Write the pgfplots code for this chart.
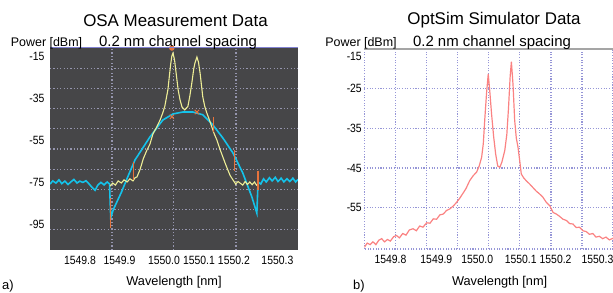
\documentclass[border=0pt]{standalone}
\usepackage{graphicx}
\usepackage{pgfplots}
\pgfplotsset{compat=1.18}
\usepackage{fontspec}
\setmainfont{Liberation Sans}
\definecolor{osabg}{RGB}{70,70,72}
\definecolor{osagrid}{RGB}{150,150,175}
\definecolor{osatop}{RGB}{130,130,210}
\definecolor{cyanA}{RGB}{20,195,235}
\definecolor{tealA}{RGB}{45,165,195}
\definecolor{yelA}{RGB}{238,238,150}
\definecolor{oraA}{RGB}{230,115,60}
\definecolor{pinkA}{RGB}{250,130,130}
\definecolor{simgrid}{RGB}{150,150,215}
\definecolor{simborder}{RGB}{165,165,165}
\newcommand{\tl}[1]{\scalebox{0.87}[1]{#1}}
\begin{document}
\begin{tikzpicture}
\path[use as bounding box] (0bp,0bp) rectangle (613bp,293bp);
\pgfplotsset{
  every tick label/.append style={font=\fontsize{12}{13}\selectfont},
}
% ---------------- left panel ----------------
\begin{axis}[
  at={(50bp,43bp)}, anchor=south west,
  scale only axis, width=248bp, height=202bp,
  xmin=1549.718, xmax=1550.351, ymin=-107.4, ymax=-11.2,
  axis background/.style={fill=osabg},
  axis line style={draw=none},
  xtick={1549.7945,1549.8953,1550.0088,1550.0981,1550.1874,1550.2984},
  xticklabels={\tl{1549.8},\tl{1549.9},\tl{1550.0},\tl{1550.1},\tl{1550.2},\tl{1550.3}},
  ytick={-15,-35,-55,-75,-95},
  yticklabels={\tl{-15},\tl{-35},\tl{-55},\tl{-75},\tl{-95}},
  major tick length=0pt,
  minor xtick={1549.876,1550.034,1550.193},
  minor ytick={-20.82,-30.44,-40.06,-49.68,-59.3,-68.92,-78.54,-88.16,-97.78},
  minor grid style={osagrid, line width=1.2pt, dash pattern=on 1.2pt off 2.2pt},
  xminorgrids, yminorgrids,
  minor tick length=0pt,
  xticklabel style={yshift=-3bp},
  yticklabel style={xshift=-2bp},
  clip=true,
]
% cyan noise + fit
\addplot[cyanA, line width=1.6pt] coordinates {
(1549.718,-76) (1549.725,-74.5) (1549.733,-75.5) (1549.741,-74) (1549.748,-75.8)
(1549.756,-74.6) (1549.764,-76.2) (1549.771,-75) (1549.779,-73.8) (1549.787,-75.5)
(1549.794,-74.6) (1549.802,-75.2) (1549.810,-74.4) (1549.818,-76) (1549.825,-77.5)
(1549.833,-79) (1549.840,-76.5) (1549.848,-75.2) (1549.856,-76.4) (1549.864,-75)
(1549.870,-76) (1549.873,-92) (1549.880,-88) (1549.900,-80) (1549.920,-71)
(1549.935,-64.5) (1549.973,-53.6) (1550.006,-45.5) (1550.032,-42.6) (1550.057,-41.7)
(1550.083,-41.7) (1550.108,-43) (1550.134,-47.9) (1550.159,-54) (1550.185,-61.2)
(1550.210,-70.7) (1550.233,-82) (1550.246,-89.8) (1550.249,-75)
(1550.256,-76) (1550.263,-73.5) (1550.270,-75) (1550.278,-73) (1550.285,-74.5)
(1550.293,-72.8) (1550.300,-74.8) (1550.308,-73.2) (1550.315,-75) (1550.323,-73.5)
(1550.330,-74.8) (1550.338,-73.2) (1550.345,-75) (1550.351,-73.8)
};
% yellow measured trace
\addplot[yelA, line width=1.1pt] coordinates {
(1549.871,-77) (1549.878,-75.5) (1549.885,-76.5) (1549.892,-74.5) (1549.900,-75.5)
(1549.907,-74) (1549.915,-75) (1549.922,-73.5) (1549.930,-74.5) (1549.935,-73)
(1549.940,-72.6) (1549.948,-69) (1549.956,-64) (1549.965,-60) (1549.973,-57)
(1549.981,-52) (1549.990,-49) (1549.999,-45.5) (1550.006,-42) (1550.011,-39)
(1550.016,-34) (1550.019,-31) (1550.023,-24) (1550.026,-19) (1550.029,-15)
(1550.032,-13.6) (1550.036,-17) (1550.039,-21.7) (1550.045,-31) (1550.050,-36)
(1550.055,-39.3) (1550.062,-40.7) (1550.070,-39) (1550.075,-34) (1550.080,-27.9)
(1550.085,-21) (1550.088,-18.3) (1550.093,-15.5) (1550.097,-18) (1550.101,-23)
(1550.108,-34.5) (1550.113,-39) (1550.118,-42) (1550.124,-45) (1550.131,-48.8)
(1550.137,-52) (1550.144,-55) (1550.151,-59) (1550.159,-63) (1550.165,-66)
(1550.172,-69.3) (1550.178,-72) (1550.185,-74) (1550.192,-76) (1550.198,-74.8)
(1550.203,-75.5) (1550.210,-76.5) (1550.216,-74.8) (1550.222,-76.2) (1550.228,-75)
(1550.234,-76.3) (1550.240,-75) (1550.245,-76.5) (1550.249,-76)
};
% orange markers
\addplot[oraA, line width=1.1pt] coordinates {(1549.873,-82.6) (1549.873,-97)};
\addplot[oraA, line width=1.1pt] coordinates {(1550.249,-70) (1550.249,-79)};
\addplot[oraA, line width=1.1pt] coordinates {(1549.930,-65.5) (1549.930,-74)};
\addplot[oraA, line width=1.1pt] coordinates {(1550.190,-60) (1550.190,-70)};
\addplot[oraA, line width=1.1pt] coordinates {(1550.136,-44) (1550.136,-51)};
\addplot[oraA, line width=1pt, mark=x, mark size=3pt, only marks] coordinates {(1550.029,-44) (1550.093,-41.7)};
\addplot[oraA, only marks, mark=*, mark size=2.5pt] coordinates {(1550.029,-11.2)};
\end{axis}
\draw[osatop, line width=1pt] (50bp,245bp) -- (298bp,245bp);
% ---------------- right panel ----------------
\begin{axis}[
  at={(364.3bp,44bp)}, anchor=south west,
  scale only axis, width=248.7bp, height=200bp,
  xmin=1549.737, xmax=1550.339, ymin=-65.4, ymax=-15,
  axis line style={simgrid, line width=1.1pt, dash pattern=on 1.1pt off 1.6pt},
  xtick={1549.8003,1549.9114,1550.0104,1550.1155,1550.2,1550.3015},
  xticklabels={\tl{1549.8},\tl{1549.9},\tl{1550.0},\tl{1550.1},\tl{1550.2},\tl{1550.3}},
  ytick={-16.8,-25,-35,-45,-55},
  yticklabels={\tl{-15},\tl{-25},\tl{-35},\tl{-45},\tl{-55}},
  major tick length=0pt,
  minor xtick={1549.812,1549.888,1549.963,1550.038,1550.113,1550.189,1550.264},
  minor ytick={-25,-35,-45,-55},
  minor grid style={simgrid, line width=1.1pt, dash pattern=on 1.1pt off 1.6pt},
  xminorgrids, yminorgrids,
  minor tick length=0pt,
  xticklabel style={yshift=-3bp},
  yticklabel style={xshift=1bp},
]
\addplot[pinkA, line width=1.2pt] coordinates {
(1549.737,-65.0) (1549.744,-63.9) (1549.751,-64.3) (1549.758,-63.6) (1549.765,-64.3)
(1549.772,-63.2) (1549.779,-62.8) (1549.786,-63.6) (1549.793,-63.0) (1549.800,-63.4)
(1549.808,-62.3) (1549.815,-62.0) (1549.822,-62.6) (1549.830,-61.5) (1549.838,-61.9)
(1549.846,-60.6) (1549.855,-60.3) (1549.863,-60.8) (1549.871,-59.6) (1549.879,-59.9)
(1549.888,-58.8) (1549.896,-58.9) (1549.904,-57.8) (1549.912,-57.9) (1549.920,-56.8)
(1549.928,-56.6) (1549.936,-55.7) (1549.944,-55.3) (1549.952,-54.6) (1549.960,-53.7)
(1549.968,-52.6) (1549.975,-51.5) (1549.983,-50.2) (1549.992,-48.2) (1550.000,-47.0)
(1550.009,-46.0) (1550.015,-44.5) (1550.021,-42.3) (1550.025,-38.9) (1550.029,-32.1)
(1550.033,-26) (1550.037,-21.3) (1550.041,-26) (1550.045,-31.3) (1550.050,-37)
(1550.055,-41.5) (1550.060,-44.5) (1550.065,-44.8) (1550.070,-43.5) (1550.077,-40.6)
(1550.082,-36.5) (1550.086,-30) (1550.090,-22) (1550.093,-18.2) (1550.097,-24)
(1550.101,-33) (1550.105,-37.5) (1550.109,-39.7) (1550.113,-43) (1550.117,-46.5)
(1550.123,-47.5) (1550.129,-48.2) (1550.137,-49.0) (1550.145,-49.9) (1550.153,-50.8)
(1550.161,-51.5) (1550.169,-52.3) (1550.178,-53.7) (1550.186,-54.5) (1550.194,-56.2)
(1550.202,-56.6) (1550.210,-57.2) (1550.218,-57.9) (1550.226,-58.2) (1550.234,-59.0)
(1550.242,-59.1) (1550.250,-60.0) (1550.258,-59.9) (1550.266,-60.8) (1550.274,-61.0)
(1550.282,-61.7) (1550.290,-61.5) (1550.298,-62.4) (1550.306,-62.2) (1550.314,-62.8)
(1550.322,-62.4) (1550.330,-63.1) (1550.339,-62.7)
};
\end{axis}
\draw[simborder, line width=1.2pt] (364.3bp,244bp) -- (613bp,244bp);
% ---------------- texts ----------------
\node[anchor=base, inner sep=0pt, font=\fontsize{17}{19}\selectfont] at (175.5bp,266bp) {OSA Measurement Data};
\node[anchor=base, inner sep=0pt, font=\fontsize{15}{17}\selectfont] at (178bp,246bp) {0.2 nm channel spacing};
\node[anchor=base, inner sep=0pt, font=\fontsize{12.5}{14}\selectfont] at (46.5bp,246bp) {Power [dBm]};
\node[anchor=base, inner sep=0pt, font=\fontsize{17}{19}\selectfont] at (494bp,268bp) {OptSim Simulator Data};
\node[anchor=base, inner sep=0pt, font=\fontsize{15}{17}\selectfont] at (492bp,246bp) {0.2 nm channel spacing};
\node[anchor=base, inner sep=0pt, font=\fontsize{12.5}{14}\selectfont] at (361bp,246bp) {Power [dBm]};
\node[anchor=base, inner sep=0pt, font=\fontsize{12.8}{14}\selectfont] at (174bp,8bp) {Wavelength [nm]};
\node[anchor=base, inner sep=0pt, font=\fontsize{12.8}{14}\selectfont] at (499.6bp,8bp) {Wavelength [nm]};
\node[anchor=base west, inner sep=0pt, font=\fontsize{13}{15}\selectfont] at (2bp,3.2bp) {a)};
\node[anchor=base west, inner sep=0pt, font=\fontsize{13}{15}\selectfont] at (353bp,3.2bp) {b)};
\end{tikzpicture}
\end{document}
